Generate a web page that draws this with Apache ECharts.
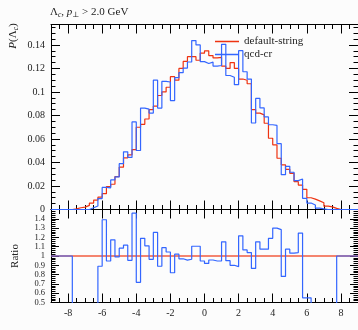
<!DOCTYPE html>
<html><head><meta charset="utf-8">
<script src="https://cdn.jsdelivr.net/npm/echarts@6/dist/echarts.min.js"></script>
<style>html,body{margin:0;padding:0;background:#fcfcfc}#c{width:358px;height:330px}</style>
</head><body><div id="c"></div>
<script>
// bin edges (width 0.25) from -9 to 9
const edges = [-9,-8.75,-8.5,-8.25,-8,-7.75,-7.5,-7.25,-7,-6.75,-6.5,-6.25,-6,-5.75,-5.5,-5.25,-5,-4.75,-4.5,-4.25,-4,-3.75,-3.5,-3.25,-3,-2.75,-2.5,-2.25,-2,-1.75,-1.5,-1.25,-1,-0.75,-0.5,-0.25,0,0.25,0.5,0.75,1,1.25,1.5,1.75,2,2.25,2.5,2.75,3,3.25,3.5,3.75,4,4.25,4.5,4.75,5,5.25,5.5,5.75,6,6.25,6.5,6.75,7,7.25,7.5,7.75,8,8.25,8.5,8.75,9];

const defaultString = [0,0,0,0,0, 0.0005,0.0015,0.0020,0.0035,0.0055, 0.0080,0.0105,0.0135,0.0195,0.0215, 0.0280,0.0360,0.0440,0.0465,0.0510, 0.0700,0.0725,0.0770,0.0850,0.0880, 0.0970,0.1000,0.1040,0.1130,0.1100, 0.1200,0.1260,0.1300,0.1300,0.1270, 0.1330,0.1350,0.1310,0.1290,0.1295, 0.1220,0.1200,0.1250,0.1200,0.1110, 0.1100,0.1070,0.0850,0.0820,0.0805, 0.0734,0.0606,0.0550,0.0436,0.0380, 0.0342,0.0308,0.0237,0.0208,0.0172, 0.0100,0.0088,0.0073,0.0058,0.0028, 0.0022,0.0010,0,0,0, 0,0];

const qcdCr = [0,0,0,0,0, 0,0,0,0,0.0015, 0.0030,0.0093,0.0188,0.0184,0.0252, 0.0277,0.0390,0.0491,0.0443,0.0745, 0.0502,0.0863,0.0854,0.0820,0.1100, 0.0863,0.1090,0.1085,0.0927,0.1122, 0.1164,0.1203,0.1255,0.1437,0.1400, 0.1258,0.1242,0.1254,0.1220,0.1225, 0.1405,0.1140,0.1125,0.1062,0.1351, 0.1172,0.1110,0.0736,0.0945,0.0864, 0.0788,0.0721,0.0715,0.0560,0.0296, 0.0367,0.0317,0.0246,0.0259,0.0095, 0.0055,0.0038,0.0012,0.0005,0, 0,0,0,0,0, 0,0];

const ratioQcd = [1,1,1,1,1, 0,0,0,0,0.27, 0.375,0.89,1.39,0.946,1.174, 0.99,1.084,1.116,0.953,1.46, 0.717,1.19,1.109,0.964,1.254, 0.89,1.09,1.043,0.82,1.02, 0.97,0.955,0.965,1.105,1.105, 0.946,0.92,0.957,0.946,0.946, 1.152,0.95,0.9,0.885,1.217, 1.065,1.037,0.866,1.152,1.073, 1.073,1.19,1.30,1.283,0.78, 1.073,1.03,1.037,1.247,0.55, 0.55,0.43,0.16,0.09,0, 0,0,1,1,1, 1,1];

const refRatio = [1, 1];
const xMajorTicks = [-8,-6,-4,-2,0,2,4,6,8];

const SERIF = "'Liberation Serif','DejaVu Serif',serif";
const TXT = '#222';
const RED = '#EE3311', BLUE = '#3366FF';

function stepData(vals){
  const d = vals.map((v,i)=>[edges[i], v]);
  d.push([edges[vals.length], vals[vals.length-1]]);
  return d;
}

function xMajor(grid, pos, labels){
  return {type:'value', gridIndex:grid, position:pos, min:-9, max:9,
    axisLine:{show:true, onZero:false, lineStyle:{color:'#000', width:1}},
    axisTick:{show:true, inside:true, length:9, customValues:xMajorTicks, lineStyle:{color:'#000', width:1}},
    axisLabel:{show:labels, customValues:xMajorTicks, margin:6, fontFamily:SERIF, fontSize:10, color:TXT},
    splitLine:{show:false}};
}
function xMinor(grid, pos){
  return {type:'value', gridIndex:grid, position:pos, min:-9, max:9, interval:0.5,
    axisLine:{show:false, onZero:false},
    axisTick:{show:true, inside:true, length:4.5, lineStyle:{color:'#000', width:1}},
    axisLabel:{show:false}, splitLine:{show:false}};
}
function yMain(pos, labels){
  return {type:'value', gridIndex:0, position:pos, min:0, max:0.1574, interval:0.02,
    axisLine:{show:true, onZero:false, lineStyle:{color:'#000'}},
    axisTick:{show:true, inside:true, length:9, lineStyle:{color:'#000'}},
    axisLabel:{show:labels, showMaxLabel:false, margin:6, fontFamily:SERIF, fontSize:10, color:TXT},
    splitLine:{show:false}};
}
function yMainMinor(pos){
  return {type:'value', gridIndex:0, position:pos, min:0, max:0.1574, interval:0.005,
    axisLine:{show:false, onZero:false},
    axisTick:{show:true, inside:true, length:4.5, lineStyle:{color:'#000'}},
    axisLabel:{show:false}, splitLine:{show:false}};
}
function yRatio(pos, labels){
  return {type:'value', gridIndex:1, position:pos, min:0.5, max:1.5, interval:0.1,
    axisLine:{show:true, onZero:false, lineStyle:{color:'#000'}},
    axisTick:{show:true, inside:true, length:8, lineStyle:{color:'#000'}},
    minorTick:{show:true, splitNumber:5, length:4.5, lineStyle:{color:'#000'}},
    axisLabel:{show:labels, showMaxLabel:false, margin:6, fontFamily:SERIF, fontSize:8.5, color:TXT,
      formatter:v=>String(Math.round(v*10)/10)},
    splitLine:{show:false}};
}

const option = {
  animation:false,
  backgroundColor:'#fcfcfc',
  title:{
    text:'{n|Λ}{s|c}{n|, }{i|p}{s|⊥}{n| > 2.0 GeV}',
    left:50, top:5, padding:0,
    textStyle:{fontWeight:'normal', rich:{
      n:{fontFamily:SERIF, fontSize:11, fontWeight:'normal', color:TXT, lineHeight:14},
      i:{fontFamily:SERIF, fontSize:11, fontWeight:'normal', fontStyle:'italic', color:TXT, lineHeight:14},
      s:{fontFamily:SERIF, fontSize:7.5, fontWeight:'normal', fontStyle:'italic', color:TXT, lineHeight:6, verticalAlign:'bottom'}
    }}
  },
  legend:{
    data:['default-string','qcd-cr'], orient:'vertical', left:215, top:36, padding:0,
    itemWidth:24, itemHeight:1.5, icon:'rect', itemGap:2, selectedMode:false,
    textStyle:{fontFamily:SERIF, fontSize:11, color:TXT}
  },
  graphic:[
    {type:'text', x:13, y:36, rotation:Math.PI/2,
     style:{text:'{i|P}{n|(Λ}{s|c}{n|)}', align:'center', verticalAlign:'middle',
       rich:{
         n:{fontFamily:SERIF, fontSize:11, fill:TXT, lineHeight:14},
         i:{fontFamily:SERIF, fontSize:11, fontStyle:'italic', fill:TXT, lineHeight:14},
         s:{fontFamily:SERIF, fontSize:7.5, fontStyle:'italic', fill:TXT, lineHeight:6, verticalAlign:'bottom'}
       }}},
    {type:'text', x:15, y:256, rotation:Math.PI/2,
     style:{text:'Ratio', fontFamily:SERIF, fontSize:11, fill:TXT, align:'center', verticalAlign:'middle'}}
  ],
  grid:[
    {left:51, top:24.5, width:309.5, height:185},
    {left:51, top:209.5, width:309.5, height:93}
  ],
  xAxis:[
    xMajor(0,'bottom',false), xMinor(0,'bottom'),
    xMajor(0,'top',false), xMinor(0,'top'),
    xMajor(1,'bottom',true), xMinor(1,'bottom'),
    xMajor(1,'top',false), xMinor(1,'top')
  ],
  yAxis:[
    yMain('left',true), yMainMinor('left'),
    yMain('right',false), yMainMinor('right'),
    yRatio('left',true), yRatio('right',false)
  ],
  series:[
    {type:'line', name:'default-string', xAxisIndex:0, yAxisIndex:0, data:stepData(defaultString),
     step:'end', symbol:'none', color:RED, lineStyle:{color:RED, width:1.2}, z:3},
    {type:'line', name:'qcd-cr', xAxisIndex:0, yAxisIndex:0, data:stepData(qcdCr),
     step:'end', symbol:'none', color:BLUE, lineStyle:{color:BLUE, width:1.2}, z:4},
    {type:'line', name:'ratio-ref', xAxisIndex:4, yAxisIndex:4,
     data:[[edges[0], refRatio[0]],[edges[edges.length-1], refRatio[1]]],
     symbol:'none', color:RED, lineStyle:{color:'rgba(238,51,17,0.6)', width:2}, z:3},
    {type:'line', name:'ratio-qcd', xAxisIndex:4, yAxisIndex:4, data:stepData(ratioQcd),
     step:'end', symbol:'none', color:BLUE, lineStyle:{color:BLUE, width:1.2}, z:4}
  ]
};
const chart = echarts.init(document.getElementById('c'), null, {renderer:'canvas'});
chart.setOption(option);
</script></body></html>
